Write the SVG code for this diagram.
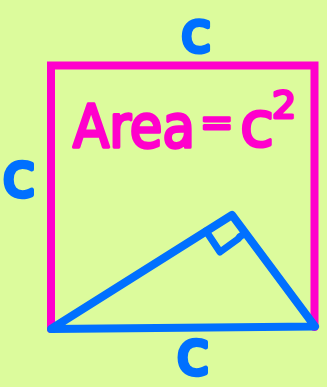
<svg xmlns="http://www.w3.org/2000/svg" width="327" height="387" viewBox="0 0 327 387">
<style>
.pink{fill:none;stroke:#ff00cc;stroke-width:8;stroke-linejoin:round;stroke-linecap:round}
.blue{fill:none;stroke:#0070ff;stroke-width:8;stroke-linejoin:round;stroke-linecap:round}
.lb{font-family:"DejaVu Sans",sans-serif;fill:#0070ff;stroke:#0070ff;stroke-width:4.5;stroke-linejoin:round;text-anchor:middle}
.lp{font-family:"DejaVu Sans",sans-serif;fill:#ff00cc;stroke:#ff00cc;stroke-width:3;stroke-linejoin:round}
</style>
<rect width="327" height="387" fill="#dcfb9c"/>
<g id="square">
<path class="pink" d="M51,329 L51,65.5 L314.5,65.5 L314.5,327" style="stroke-linejoin:miter"/>
</g>
<g id="triangle">
<path class="blue" d="M51,329 L232,215 L315,326.5 Z"/>
<path class="blue" d="M206,231 L220,252 L238,239 Q240,236 244,234" style="stroke-width:7"/>
</g>
<g id="labels">
<text class="lb" x="196" y="51" font-size="55">c</text>
<text class="lb" x="19" y="196" font-size="60">c</text>
<text class="lb" x="193" y="374" font-size="60">c</text>
<text class="lp" transform="translate(73,147) scale(1,1.12)" x="0" y="0" font-size="53">Area</text>
<text class="lp" x="200" y="136" font-size="40">=</text>
<text class="lp" x="257" y="146" font-size="62" style="text-anchor:middle">c</text>
<text class="lp" x="284" y="118" font-size="38" style="text-anchor:middle">2</text>
</g>
</svg>
